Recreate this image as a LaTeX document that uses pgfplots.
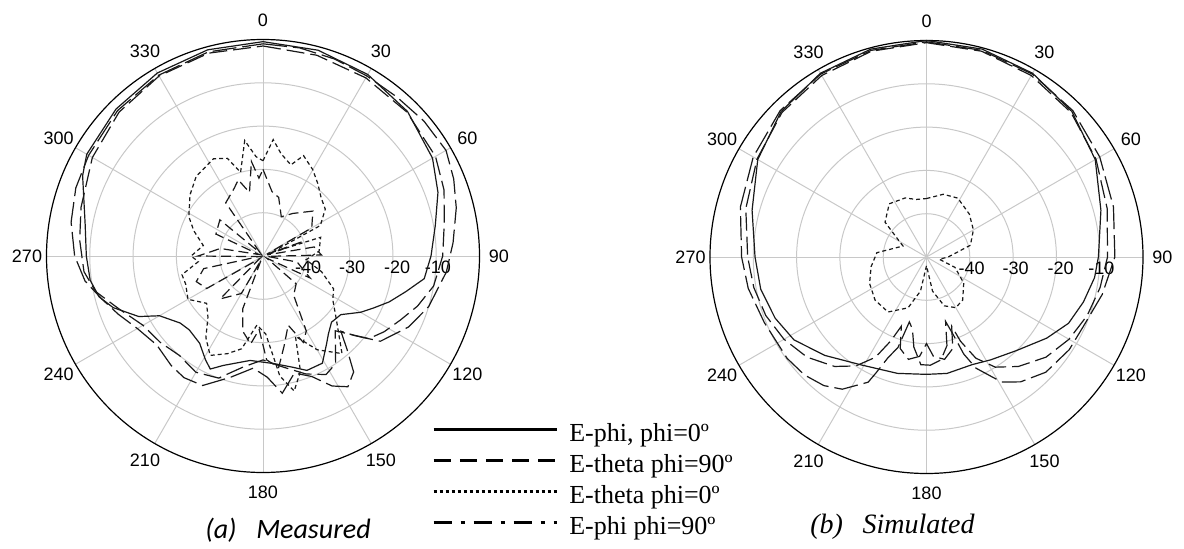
\documentclass[border=0pt]{standalone}
\usepackage{fontspec}
\setmainfont{Liberation Sans}
\newfontfamily\serif{Liberation Serif}
\newfontfamily\carlito{Carlito}
\usepackage{pgfplots}
\usepgfplotslibrary{polar}
\usepackage{pgfplotstable}
\pgfplotsset{compat=1.18}

% ---------- Measured ----------
\pgfplotstableread{
a d
0 -0.5
15 -0.8
30 -1.6
45 -2.8
60 -4.8
70 -7.0
80 -9.6
90 -11.2
98 -12.4
104 -16.0
110 -19.0
115 -21.7
120 -24.0
127 -27.5
134 -28.0
140 -26.5
144 -25.0
151 -21.7
159 -21.7
165 -23.4
174 -25.0
187 -25.7
200 -23.1
205 -21.2
209 -22.6
216 -25.1
225 -25.9
231 -25.4
240 -22.4
244 -18.1
251 -13.4
256 -11.0
262 -9.7
270 -9.2
280 -8.3
294 -4.4
300 -3.0
315 -2.0
330 -1.2
345 -0.7
360 -0.5
}\mS

\pgfplotstableread{
a d
0 -1.0
10 -1.2
20 -1.6
30 -2.0
40 -2.0
50 -1.5
60 -1.2
68 -2.5
76 -4.0
86 -6.0
95 -7.5
107 -10.0
116 -12.6
126 -16.5
131 -22.0
134 -25.0
138 -21.0
142 -16.0
147 -14.0
152 -16.0
158 -20.0
165 -22.0
172 -18.0
178 -22.0
185 -24.0
195 -21.0
205 -17.0
213 -16.5
220 -17.0
230 -18.0
240 -16.5
248 -14.0
255 -11.5
262 -8.5
270 -6.5
280 -5.0
290 -4.0
300 -3.5
315 -2.5
330 -1.8
345 -1.2
360 -1.0
}\mA

\pgfplotstableread{
a d
0 -1.5
15 -2.0
30 -2.5
45 -3.0
60 -4.0
70 -5.5
80 -7.5
90 -8.5
100 -10.0
108 -12.5
115 -15.0
122 -17.0
128 -19.0
132 -23.0
136 -26.0
140 -24.0
146 -20.0
152 -19.0
160 -21.0
170 -24.0
180 -26.0
190 -24.0
200 -20.0
210 -19.0
220 -20.0
230 -19.0
240 -18.0
250 -14.5
258 -10.5
265 -8.5
275 -7.5
285 -6.5
300 -4.5
315 -3.0
330 -2.0
345 -1.5
360 -1.5
}\mB

\pgfplotstableread{
a d
0 -28
5 -23
10 -26
17 -28
22 -25
30 -27
37 -29
45 -31
53 -32
62 -35
68 -48
72 -36
85 -37
95 -40
105 -36
115 -32
122 -31
130 -28
141 -21
150 -25
158 -30
162 -22
167 -18
172 -22
178 -32
185 -34
193 -28
200 -26
208 -24
215 -27
222 -31
230 -33
240 -30
250 -31
257 -30.8
265 -35
270 -33.4
280 -36
290 -33
298 -30.6
310 -28
320 -26
333 -24.8
340 -26
345 -30
351 -23
356 -27
360 -28
}\mC

\pgfplotstableread{
a d
0 -30
8 -35
15 -36
25 -40
35 -38
48 -34.5
60 -37
65 -49
70 -40
75 -49
80 -38
89 -36.5
95 -49
100 -42
115 -38
120 -49
130 -40
142 -38.5
150 -30
155 -28
160 -33
167 -28.5
172 -24
178 -26
183 -33
188 -29.5
195 -32
201 -37
205 -49
210 -40
225 -36
232 -49
240 -35
249 -33.5
258 -36
262 -49
270 -35
280 -40
290 -49
295 -38
310 -37
318 -49
325 -35
337 -33
342 -31.5
348 -35
353 -28
357 -32
360 -30
}\mD

% ---------- Simulated ----------
\pgfplotstableread{
a d
0 0
15 -0.3
30 -1.0
45 -2.5
60 -5.0
75 -8.3
90 -10.3
97 -10.9
106 -12.3
115 -13.8
124 -16.5
136 -20.0
148 -22.0
157 -23.0
170 -22.7
180 -22.9
194 -22.3
211 -20.9
226 -17.3
238 -13.9
248 -12.3
259 -11.0
270 -10.4
285 -8.3
300 -5.0
315 -2.5
330 -1.0
345 -0.3
360 0
}\sS

\pgfplotstableread{
a d
0 -0.3
15 -0.6
30 -1.2
45 -2.2
60 -3.8
75 -5.3
90 -6.5
102 -8.5
114 -10.4
123 -10.7
134 -11.7
143 -13.9
149 -16.3
156 -21.9
159 -26
161 -31
163.5 -34.5
167 -29
172 -26
178 -25
183 -25.1
188 -29
191 -33
194.8 -34.5
197.5 -28.1
201 -25
203.6 -20.7
205 -18.1
212.5 -13.8
218.6 -12
226 -10.8
234 -10.2
248 -9.6
260 -8.2
270 -7.3
285 -5.5
300 -3.8
315 -2.2
330 -1.2
345 -0.6
360 -0.3
}\sA

\pgfplotstableread{
a d
0 -0.5
15 -0.8
30 -1.6
45 -2.8
60 -4.8
75 -6.8
90 -8.2
100 -9.3
110 -10.5
120 -12
130 -14
140 -17
148 -20
154 -24
158 -29
160 -33
164 -28
170 -26
176 -27
180 -30
184 -27
190 -26
196 -28
200 -33
203 -29
207 -24
213 -20
220 -17
230 -14
240 -12
250 -10.5
260 -9.5
270 -8.7
285 -6.8
300 -4.8
315 -2.8
330 -1.6
345 -0.8
360 -0.5
}\sB

\pgfplotstableread{
a d
0 -36.5
15 -35
28 -34.6
45 -36
60 -37.5
75 -39.5
90 -45
100 -47
110 -43
125 -39.5
140 -37
150 -36.5
160 -38
170 -42
180 -48
190 -42
200 -37.5
215 -34.5
230 -34.5
245 -35.5
260 -37
275 -38.5
295 -44
310 -37.5
325 -35
340 -35.5
350 -36.5
360 -36.5
}\sC

\definecolor{gridc}{RGB}{200,200,200}
\definecolor{curvec}{RGB}{25,25,25}
\newcommand\lab{\fontsize{9}{10}\selectfont}

\pgfplotsset{
  polbase/.style={
    anchor=center, scale only axis, width=216.5pt, height=216.5pt,
    xmin=-50, xmax=50, ymin=-50, ymax=50,
    axis lines=none, clip=false,
  },
  co/.style={curvec, line width=0.6pt, data cs=polar, forget plot},
  stA/.style={co, dash pattern=on 12pt off 3pt},
  stB/.style={co, dash pattern=on 9pt off 3pt},
  stC/.style={co, dash pattern=on 2pt off 1.5pt},
  stD/.style={co, dash pattern=on 5pt off 2.5pt},
}

\newcommand\polargrid{%
  \draw[gridc, line width=0.5pt] (axis cs:0,0) circle[radius=10];
  \draw[gridc, line width=0.5pt] (axis cs:0,0) circle[radius=20];
  \draw[gridc, line width=0.5pt] (axis cs:0,0) circle[radius=30];
  \draw[gridc, line width=0.5pt] (axis cs:0,0) circle[radius=40];
  \pgfplotsinvokeforeach{0,30,...,330}{%
    \draw[gridc, line width=0.5pt] (axis cs:0,0) -- (axis cs:{50*sin(##1)},{50*cos(##1)});
    \node[font=\lab, inner sep=0pt] at (axis cs:{54.5*sin(##1)},{54.5*cos(##1)}) {##1};
  }
  \draw[black, line width=0.6pt] (axis cs:0,0) circle[radius=50];
  \node[font=\lab, anchor=north, inner sep=0pt] at (axis cs:10.4,-1.0) {-40};
  \node[font=\lab, anchor=north, inner sep=0pt] at (axis cs:20.6,-1.0) {-30};
  \node[font=\lab, anchor=north, inner sep=0pt] at (axis cs:31,-1.0) {-20};
  \node[font=\lab, anchor=north, inner sep=0pt] at (axis cs:40.4,-1.0) {-10};
}

\begin{document}
\begin{tikzpicture}
\useasboundingbox (0,0) rectangle (592pt,274pt);

\begin{axis}[polbase, at={(131.5pt,146pt)},
  title={\carlito\itshape (a)\hspace{0.7em}Measured},
  title style={at={(0.5577,-0.162)}, anchor=center, inner sep=0pt,
    font=\fontsize{14}{16}\selectfont},
]
\polargrid
\addplot[stD] table[x expr={90-\thisrow{a}}, y expr={\thisrow{d}+50}] {\mD};
\addplot[stC] table[x expr={90-\thisrow{a}}, y expr={\thisrow{d}+50}] {\mC};
\addplot[stB] table[x expr={90-\thisrow{a}}, y expr={\thisrow{d}+50}] {\mB};
\addplot[stA] table[x expr={90-\thisrow{a}}, y expr={\thisrow{d}+50}] {\mA};
\addplot[co] table[x expr={90-\thisrow{a}}, y expr={\thisrow{d}+50}] {\mS};
\end{axis}

\begin{axis}[polbase, at={(463.25pt,145.5pt)},
  title={\serif\itshape (b)\hspace{0.7em}Simulated},
  title style={at={(0.4215,-0.150)}, anchor=center, inner sep=0pt,
    font=\fontsize{14}{16}\selectfont},
  legend image code/.code={\draw[#1] (0pt,0.55ex) -- (61.5pt,0.55ex);},
  legend cell align=left,
  legend style={draw=none, fill=none, inner sep=0pt, at={(-0.6432,0.1143)},
    anchor=north west, font=\serif\fontsize{13}{14}\selectfont,
    row sep=4.5pt, column sep=5.5pt,
    nodes={inner sep=0pt, text height=8.5pt, text depth=2.5pt}},
]
\polargrid
\addplot[stC] table[x expr={90-\thisrow{a}}, y expr={\thisrow{d}+50}] {\sC};
\addplot[stB] table[x expr={90-\thisrow{a}}, y expr={\thisrow{d}+50}] {\sB};
\addplot[stA] table[x expr={90-\thisrow{a}}, y expr={\thisrow{d}+50}] {\sA};
\addplot[co] table[x expr={90-\thisrow{a}}, y expr={\thisrow{d}+50}] {\sS};
\addlegendimage{black, line width=1.7pt}
\addlegendentry{E-phi, phi=0º}
\addlegendimage{black, line width=1.7pt, dash pattern=on 8.5pt off 4.6pt}
\addlegendentry{E-theta phi=90º}
\addlegendimage{black, line width=1.5pt, dash pattern=on 1.5pt off 1.5pt}
\addlegendentry{E-theta phi=0º}
\addlegendimage{black, line width=1.7pt, dash pattern=on 9pt off 4.5pt on 2pt off 4.5pt}
\addlegendentry{E-phi phi=90º}
\end{axis}
\end{tikzpicture}
\end{document}
